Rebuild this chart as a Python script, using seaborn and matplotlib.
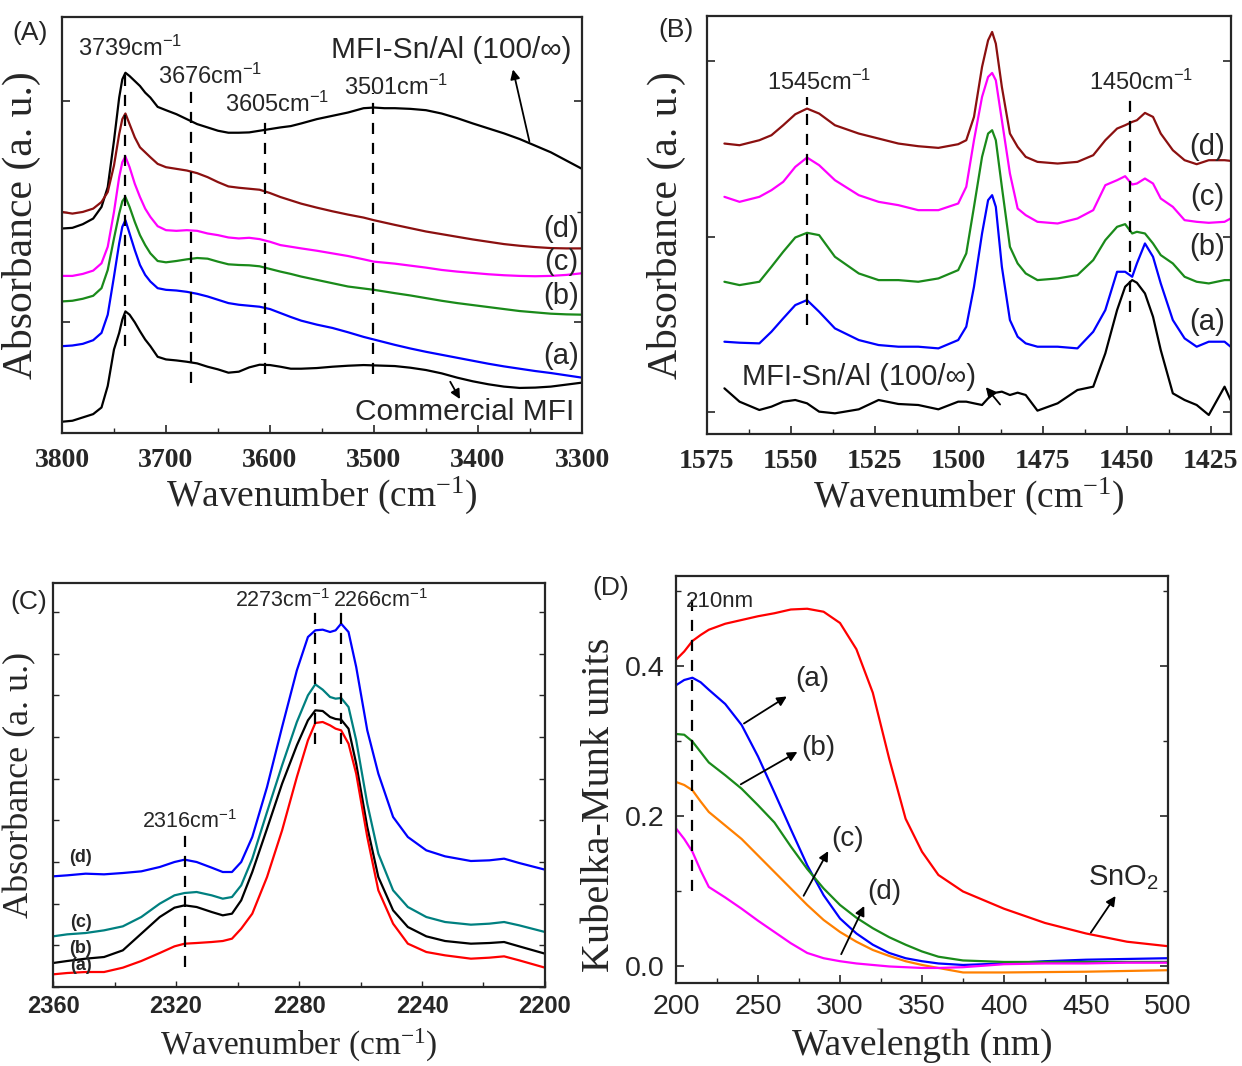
import numpy as np
import pandas as pd
import matplotlib
matplotlib.use("Agg")
import matplotlib.pyplot as plt
from matplotlib.ticker import MultipleLocator, FixedLocator, NullFormatter, FormatStrFormatter
import seaborn as sns

sns.set_style("ticks")
plt.rcParams['font.family'] = ['Liberation Sans', 'DejaVu Sans']
plt.rcParams['mathtext.fontset'] = 'custom'
plt.rcParams['mathtext.rm'] = 'Liberation Sans'
plt.rcParams['mathtext.default'] = 'regular'

# ---------------- Panel A data ----------------
wn_A = [3800, 3790, 3780, 3770, 3762, 3756, 3750, 3745, 3742, 3739, 3735, 3730, 3725, 3720, 3715, 3708,
        3700, 3690, 3680, 3670, 3660, 3650, 3640, 3630, 3620, 3610, 3600, 3590, 3580, 3570, 3555, 3540,
        3525, 3510, 3500, 3490, 3480, 3465, 3450, 3435, 3420, 3405, 3390, 3375, 3360, 3345, 3330, 3315, 3300]
A_snal = [0.617, 0.619, 0.630, 0.647, 0.682, 0.742, 0.882, 1.012, 1.067, 1.087, 1.077, 1.062, 1.047, 1.027,
          1.012, 0.984, 0.974, 0.962, 0.947, 0.932, 0.922, 0.912, 0.906, 0.906, 0.907, 0.912, 0.917, 0.922,
          0.926, 0.934, 0.947, 0.957, 0.967, 0.980, 0.982, 0.980, 0.980, 0.978, 0.974, 0.964, 0.950, 0.934,
          0.919, 0.904, 0.887, 0.867, 0.847, 0.822, 0.797]
A_d = [0.667, 0.662, 0.667, 0.677, 0.697, 0.727, 0.807, 0.902, 0.947, 0.964, 0.932, 0.892, 0.862, 0.847,
       0.832, 0.812, 0.802, 0.797, 0.792, 0.784, 0.772, 0.757, 0.744, 0.740, 0.737, 0.734, 0.724, 0.712,
       0.702, 0.692, 0.680, 0.669, 0.659, 0.650, 0.642, 0.635, 0.628, 0.618, 0.608, 0.600, 0.592, 0.584,
       0.577, 0.570, 0.565, 0.561, 0.558, 0.557, 0.557]
A_c = [0.474, 0.474, 0.480, 0.490, 0.512, 0.562, 0.667, 0.772, 0.817, 0.834, 0.802, 0.752, 0.712, 0.677,
       0.652, 0.624, 0.612, 0.610, 0.612, 0.610, 0.602, 0.597, 0.590, 0.587, 0.589, 0.585, 0.577, 0.567,
       0.562, 0.557, 0.550, 0.542, 0.534, 0.524, 0.517, 0.514, 0.511, 0.505, 0.499, 0.492, 0.487, 0.483,
       0.479, 0.476, 0.474, 0.473, 0.474, 0.477, 0.482]
A_b = [0.397, 0.399, 0.405, 0.414, 0.437, 0.492, 0.587, 0.662, 0.699, 0.712, 0.682, 0.637, 0.597, 0.567,
       0.542, 0.519, 0.515, 0.519, 0.524, 0.528, 0.526, 0.517, 0.509, 0.507, 0.506, 0.503, 0.495, 0.487,
       0.480, 0.472, 0.462, 0.452, 0.442, 0.436, 0.432, 0.427, 0.422, 0.415, 0.407, 0.399, 0.392, 0.386,
       0.380, 0.374, 0.368, 0.364, 0.360, 0.358, 0.357]
A_a = [0.262, 0.264, 0.269, 0.280, 0.302, 0.357, 0.472, 0.572, 0.622, 0.642, 0.602, 0.552, 0.507, 0.477,
       0.457, 0.437, 0.432, 0.430, 0.426, 0.420, 0.412, 0.402, 0.392, 0.387, 0.384, 0.381, 0.374, 0.362,
       0.350, 0.339, 0.327, 0.317, 0.304, 0.290, 0.282, 0.274, 0.266, 0.255, 0.245, 0.236, 0.227, 0.218,
       0.209, 0.201, 0.194, 0.187, 0.181, 0.174, 0.167]
A_comm = [0.034, 0.037, 0.047, 0.057, 0.077, 0.142, 0.252, 0.302, 0.342, 0.367, 0.357, 0.334, 0.307, 0.282,
          0.262, 0.230, 0.222, 0.219, 0.215, 0.210, 0.200, 0.192, 0.182, 0.185, 0.198, 0.206, 0.205, 0.200,
          0.194, 0.194, 0.196, 0.200, 0.203, 0.205, 0.204, 0.203, 0.202, 0.197, 0.190, 0.180, 0.167, 0.156,
          0.147, 0.140, 0.136, 0.137, 0.140, 0.146, 0.152]

# ---------------- Panel B data ----------------
wn_B = [1569.8, 1565.3, 1559.4, 1555.8, 1552.3, 1548.7, 1545.2, 1541.6, 1536.9, 1529.8, 1523.9, 1518.0,
        1512.1, 1506.1, 1500.2, 1497.8, 1495.5, 1493.1, 1491.3, 1490.1, 1489.0, 1487.2, 1484.8, 1482.5,
        1480.1, 1476.6, 1470.6, 1464.7, 1460.0, 1456.4, 1452.9, 1450.5, 1448.4, 1447.0, 1444.6, 1442.2,
        1439.9, 1436.3, 1432.8, 1429.2, 1425.6, 1420.9, 1419.1]
B_d = [0.872, 0.867, 0.882, 0.897, 0.927, 0.960, 0.977, 0.962, 0.927, 0.902, 0.887, 0.872, 0.864, 0.859,
       0.870, 0.882, 0.952, 1.102, 1.182, 1.207, 1.172, 1.042, 0.902, 0.862, 0.832, 0.817, 0.812, 0.817,
       0.837, 0.882, 0.917, 0.927, 0.937, 0.942, 0.964, 0.952, 0.902, 0.852, 0.822, 0.810, 0.822, 0.822, 0.820]
B_c = [0.712, 0.697, 0.712, 0.732, 0.757, 0.802, 0.830, 0.807, 0.762, 0.717, 0.697, 0.687, 0.672, 0.672,
       0.692, 0.742, 0.882, 1.012, 1.072, 1.084, 1.062, 0.942, 0.782, 0.677, 0.657, 0.637, 0.632, 0.647,
       0.672, 0.747, 0.762, 0.774, 0.749, 0.752, 0.767, 0.752, 0.707, 0.682, 0.642, 0.637, 0.634, 0.637, 0.647]
B_b = [0.457, 0.447, 0.457, 0.502, 0.547, 0.590, 0.604, 0.597, 0.532, 0.482, 0.462, 0.462, 0.457, 0.467,
       0.492, 0.542, 0.682, 0.832, 0.902, 0.912, 0.882, 0.742, 0.562, 0.512, 0.482, 0.462, 0.467, 0.477,
       0.522, 0.582, 0.622, 0.630, 0.602, 0.607, 0.602, 0.572, 0.537, 0.512, 0.472, 0.457, 0.452, 0.462, 0.462]
B_a = [0.277, 0.274, 0.272, 0.307, 0.347, 0.387, 0.402, 0.367, 0.317, 0.282, 0.267, 0.262, 0.262, 0.257,
       0.282, 0.322, 0.442, 0.602, 0.702, 0.717, 0.682, 0.502, 0.342, 0.292, 0.272, 0.262, 0.262, 0.257,
       0.307, 0.372, 0.487, 0.487, 0.472, 0.512, 0.572, 0.532, 0.452, 0.342, 0.287, 0.262, 0.277, 0.277, 0.262]
B_snal = [0.137, 0.097, 0.072, 0.082, 0.097, 0.102, 0.092, 0.067, 0.062, 0.074, 0.102, 0.090, 0.087, 0.074,
          0.097, 0.097, 0.092, 0.087, 0.107, 0.117, 0.124, 0.127, 0.117, 0.124, 0.117, 0.070, 0.092, 0.132,
          0.142, 0.242, 0.372, 0.442, 0.462, 0.454, 0.422, 0.352, 0.252, 0.122, 0.102, 0.087, 0.057, 0.142, 0.102]

# ---------------- Panel C data ----------------
wn_C = [2360, 2355.4, 2349.4, 2343.4, 2337.3, 2331.3, 2325.3, 2320.5, 2317.2, 2313.3, 2308.4, 2304.8,
        2301.8, 2298.8, 2295.2, 2290.4, 2285.5, 2280.7, 2277.1, 2274.7, 2272.3, 2269.9, 2268.1, 2266.3,
        2263.9, 2261.4, 2257.8, 2254.2, 2249.4, 2244.6, 2238.6, 2232.5, 2224.1, 2218.1, 2213.3, 2208.4, 2200]
C_d = [0.332, 0.335, 0.340, 0.338, 0.342, 0.347, 0.360, 0.375, 0.382, 0.375, 0.358, 0.345, 0.345, 0.375,
       0.450, 0.600, 0.780, 0.950, 1.050, 1.070, 1.072, 1.065, 1.070, 1.090, 1.065, 0.960, 0.770, 0.640,
       0.510, 0.450, 0.410, 0.392, 0.378, 0.380, 0.385, 0.372, 0.352]
C_c = [0.152, 0.158, 0.162, 0.170, 0.182, 0.210, 0.250, 0.275, 0.282, 0.285, 0.275, 0.265, 0.270, 0.305,
       0.385, 0.525, 0.665, 0.795, 0.875, 0.908, 0.892, 0.870, 0.865, 0.867, 0.840, 0.740, 0.550, 0.400,
       0.290, 0.240, 0.210, 0.195, 0.187, 0.190, 0.195, 0.185, 0.165]
C_b = [0.072, 0.078, 0.085, 0.090, 0.110, 0.160, 0.210, 0.238, 0.245, 0.240, 0.225, 0.215, 0.220, 0.260,
       0.345, 0.475, 0.610, 0.725, 0.800, 0.830, 0.828, 0.810, 0.804, 0.802, 0.775, 0.670, 0.480, 0.330,
       0.230, 0.180, 0.152, 0.138, 0.130, 0.132, 0.135, 0.122, 0.100]
C_a = [0.038, 0.042, 0.045, 0.045, 0.058, 0.078, 0.102, 0.122, 0.130, 0.132, 0.135, 0.138, 0.145, 0.175,
       0.220, 0.330, 0.470, 0.630, 0.740, 0.792, 0.795, 0.785, 0.775, 0.770, 0.730, 0.640, 0.450, 0.290,
       0.190, 0.130, 0.105, 0.095, 0.085, 0.088, 0.092, 0.080, 0.058]

# ---------------- Panel D data ----------------
wl_D = [200, 205, 210, 215, 220, 230, 240, 250, 260, 270, 280, 290, 300, 310, 320, 330, 340, 350, 360, 375,
        400, 425, 450, 475, 500]
D_sno2 = [0.409, 0.420, 0.434, 0.442, 0.449, 0.457, 0.462, 0.467, 0.471, 0.476, 0.477, 0.473, 0.458, 0.423,
          0.365, 0.277, 0.197, 0.153, 0.122, 0.100, 0.077, 0.058, 0.044, 0.033, 0.027]
D_a = [0.375, 0.382, 0.385, 0.379, 0.369, 0.350, 0.322, 0.280, 0.232, 0.183, 0.135, 0.095, 0.064, 0.044,
       0.029, 0.018, 0.011, 0.007, 0.004, 0.002, 0.004, 0.007, 0.009, 0.010, 0.011]
D_b = [0.310, 0.309, 0.300, 0.286, 0.272, 0.255, 0.237, 0.215, 0.192, 0.160, 0.130, 0.104, 0.082, 0.065,
       0.051, 0.039, 0.029, 0.020, 0.013, 0.008, 0.006, 0.006, 0.006, 0.006, 0.006]
D_c = [0.246, 0.242, 0.235, 0.220, 0.206, 0.188, 0.170, 0.148, 0.126, 0.104, 0.082, 0.062, 0.046, 0.033,
       0.022, 0.014, 0.007, 0.002, -0.002, -0.008, -0.008, -0.0075, -0.007, -0.006, -0.005]
D_d = [0.184, 0.170, 0.153, 0.128, 0.106, 0.092, 0.077, 0.061, 0.046, 0.031, 0.018, 0.011, 0.007, 0.004,
       0.002, 0.000, -0.001, -0.002, -0.002, -0.001, 0.003, 0.004, 0.004, 0.005, 0.005]

BROWN = '#8b1010'
MAG = '#ff00ff'
GREEN = '#1a8a1a'
BLUE = '#0000ff'
TEAL = '#008080'
ORANGE = '#ff8000'
RED = '#ff0000'

SERIF = ['Liberation Serif', 'DejaVu Serif']
SANS = ['Liberation Sans', 'DejaVu Sans']

fig = plt.figure(figsize=(12.42, 10.66), dpi=100)
axA = fig.add_axes([0.0499, 0.5938, 0.4187, 0.3902])
axB = fig.add_axes([0.5692, 0.5929, 0.4219, 0.3921])
axC = fig.add_axes([0.0427, 0.0741, 0.3961, 0.3790])
axD = fig.add_axes([0.5443, 0.0779, 0.3961, 0.3820])


def draw(ax, x, ys_colors):
    for y, c in ys_colors:
        df = pd.DataFrame({'x': x, 'y': y})
        sns.lineplot(data=df, x='x', y='y', ax=ax, color=c, lw=1.6, estimator=None, sort=True)


def style(ax, tick_font, tick_size, tick_weight, pad):
    ax.tick_params(which='both', direction='in', top=False, right=True)
    ax.tick_params(which='major', length=6, width=1.2, pad=pad)
    ax.tick_params(which='minor', length=3.5, width=1.0)
    for s in ax.spines.values():
        s.set_linewidth(1.6)
        s.set_visible(True)
    for lab in ax.get_xticklabels() + ax.get_yticklabels():
        lab.set_fontfamily(tick_font)
        lab.set_fontsize(tick_size)
        lab.set_fontweight(tick_weight)


def dash(ax, x, y0, y1):
    ax.plot([x, x], [y0, y1], color='black', ls=(0, (5, 4)), lw=1.6)


def arrow(ax, xy_from, xy_to):
    ax.annotate('', xy=xy_to, xytext=xy_from,
                arrowprops=dict(arrowstyle='-|>', color='black', lw=1.3, mutation_scale=14))

# ---------------- Panel A ----------------
draw(axA, wn_A, [(A_snal, 'black'), (A_d, BROWN), (A_c, MAG), (A_b, GREEN), (A_a, BLUE), (A_comm, 'black')])
axA.set_xlim(3800, 3300)
axA.set_ylim(0, 1.255)
axA.xaxis.set_major_locator(MultipleLocator(100))
axA.xaxis.set_minor_locator(MultipleLocator(50))
axA.yaxis.set_major_locator(FixedLocator([0.334, 1.002]))
axA.yaxis.set_minor_locator(FixedLocator([0.668]))
axA.yaxis.set_major_formatter(NullFormatter())
axA.set_xlabel('Wavenumber (cm$^{-1}$)', fontfamily=SERIF, fontsize=27, labelpad=1)
axA.set_ylabel('Absorbance (a. u.)', fontfamily=SERIF, fontsize=30, labelpad=4)
style(axA, SERIF, 20, 'bold', 11)
for x, y0, y1 in [(3739, 0.262, 1.107), (3676, 0.152, 1.037), (3605, 0.177, 0.947), (3501, 0.177, 1.027)]:
    dash(axA, x, y0, y1)
for txt, x, y in [('3739cm$^{-1}$', 3734, 1.162), ('3676cm$^{-1}$', 3658, 1.077),
                  ('3605cm$^{-1}$', 3593, 0.992), ('3501cm$^{-1}$', 3479, 1.042)]:
    axA.text(x, y, txt, ha='center', va='center', fontsize=17, fontfamily=SANS)
axA.text(3426, 1.157, 'MFI-Sn/Al (100/∞)', ha='center', va='center', fontsize=21.5, fontfamily=SANS)
arrow(axA, (3350, 0.872), (3367, 1.105))
axA.text(3413, 0.062, 'Commercial MFI', ha='center', va='center', fontsize=21.5, fontfamily=SANS)
arrow(axA, (3428, 0.162), (3416, 0.095))
for txt, y in [('(d)', 0.617), ('(c)', 0.517), ('(b)', 0.412), ('(a)', 0.232)]:
    axA.text(3320, y, txt, ha='center', va='center', fontsize=21, fontfamily=SANS)
fig.text(12 / 1242, 1 - 33 / 1066, '(A)', fontsize=19, fontfamily=SANS, va='center')

# ---------------- Panel B ----------------
draw(axB, wn_B, [(B_d, BROWN), (B_c, MAG), (B_b, GREEN), (B_a, BLUE), (B_snal, 'black')])
axB.set_xlim(1575, 1419)
axB.set_ylim(0, 1.255)
axB.xaxis.set_major_locator(MultipleLocator(25))
axB.xaxis.set_minor_locator(MultipleLocator(12.5))
axB.yaxis.set_major_locator(FixedLocator([0.065, 0.592, 1.119]))
axB.yaxis.set_major_formatter(NullFormatter())
axB.set_xlabel('Wavenumber (cm$^{-1}$)', fontfamily=SERIF, fontsize=27, labelpad=1)
axB.set_ylabel('Absorbance (a. u.)', fontfamily=SERIF, fontsize=30, labelpad=4)
style(axB, SERIF, 20, 'bold', 11)
dash(axB, 1545.2, 0.327, 1.012)
dash(axB, 1449, 0.367, 1.002)
axB.text(1541.6, 1.057, '1545cm$^{-1}$', ha='center', va='center', fontsize=17, fontfamily=SANS)
axB.text(1445.8, 1.057, '1450cm$^{-1}$', ha='center', va='center', fontsize=17, fontfamily=SANS)
for txt, y in [('(d)', 0.862), ('(c)', 0.712), ('(b)', 0.562), ('(a)', 0.337)]:
    axB.text(1426, y, txt, ha='center', va='center', fontsize=21, fontfamily=SANS)
axB.text(1529.8, 0.172, 'MFI-Sn/Al (100/∞)', ha='center', va='center', fontsize=21, fontfamily=SANS)
arrow(axB, (1487.2, 0.082), (1492.5, 0.147))
fig.text(658 / 1242, 1 - 30 / 1066, '(B)', fontsize=19, fontfamily=SANS, va='center')

# ---------------- Panel C ----------------
draw(axC, wn_C, [(C_d, BLUE), (C_c, TEAL), (C_b, 'black'), (C_a, RED)])
axC.set_xlim(2360, 2200)
axC.set_ylim(0, 1.212)
axC.xaxis.set_major_locator(MultipleLocator(40))
axC.xaxis.set_minor_locator(MultipleLocator(20))
axC.yaxis.set_major_locator(MultipleLocator(0.125))
axC.yaxis.set_major_formatter(NullFormatter())
axC.set_xlabel('Wavenumber (cm$^{-1}$)', fontfamily=SERIF, fontsize=24, labelpad=6)
axC.set_ylabel('Absorbance (a. u.)', fontfamily=SERIF, fontsize=26, labelpad=6)
style(axC, SANS, 17, 'bold', 6)
axC.tick_params(which='major', length=4, width=1.0)
dash(axC, 2317, 0.06, 0.455)
dash(axC, 2274.7, 0.73, 1.15)
dash(axC, 2266.5, 0.73, 1.14)
axC.text(2315.7, 0.495, '2316cm$^{-1}$', ha='center', va='center', fontsize=15.5, fontfamily=SANS)
axC.text(2285.5, 1.16, '2273cm$^{-1}$', ha='center', va='center', fontsize=15.5, fontfamily=SANS)
axC.text(2253.6, 1.16, '2266cm$^{-1}$', ha='center', va='center', fontsize=15.5, fontfamily=SANS)
for txt, y in [('(d)', 0.388), ('(c)', 0.195), ('(b)', 0.115), ('(a)', 0.065)]:
    axC.text(2351, y, txt, ha='center', va='center', fontsize=13, fontweight='bold', fontfamily=SANS)
fig.text(10 / 1242, 1 - 602 / 1066, '(C)', fontsize=19, fontfamily=SANS, va='center')

# ---------------- Panel D ----------------
draw(axD, wl_D, [(D_sno2, RED), (D_a, BLUE), (D_b, GREEN), (D_c, ORANGE), (D_d, MAG)])
axD.set_xlim(200, 500)
axD.set_ylim(-0.022, 0.521)
axD.xaxis.set_major_locator(MultipleLocator(50))
axD.xaxis.set_minor_locator(MultipleLocator(25))
axD.yaxis.set_major_locator(MultipleLocator(0.2))
axD.yaxis.set_minor_locator(MultipleLocator(0.1))
axD.set_xlabel('Wavelength (nm)', fontfamily=SERIF, fontsize=27, labelpad=6)
axD.set_ylabel('Kubelka-Munk units', fontfamily=SERIF, fontsize=29)
axD.yaxis.set_label_coords(-0.118, 0.437)
style(axD, SANS, 20.5, 'normal', 8)
axD.yaxis.set_major_formatter(FormatStrFormatter('%.1f'))
dash(axD, 210, 0.10, 0.50)
axD.text(206, 0.487, '210nm', ha='left', va='center', fontsize=16, fontfamily=SANS)
axD.text(283, 0.383, '(a)', ha='center', va='center', fontsize=20, fontfamily=SANS)
arrow(axD, (240, 0.322), (269, 0.362))
axD.text(287, 0.291, '(b)', ha='center', va='center', fontsize=20, fontfamily=SANS)
arrow(axD, (238, 0.241), (275.5, 0.288))
axD.text(304.5, 0.170, '(c)', ha='center', va='center', fontsize=20, fontfamily=SANS)
arrow(axD, (277, 0.091), (293.6, 0.157))
axD.text(327, 0.099, '(d)', ha='center', va='center', fontsize=20, fontfamily=SANS)
arrow(axD, (300, 0.013), (315.5, 0.084))
axD.text(473, 0.119, 'SnO$_2$', ha='center', va='center', fontsize=21, fontfamily=SANS)
arrow(axD, (452, 0.042), (469, 0.097))
fig.text(592 / 1242, 1 - 588 / 1066, '(D)', fontsize=19, fontfamily=SANS, va='center')

for ax in (axA, axB, axC, axD):
    ax.set_facecolor('white')

fig.savefig('out.png', dpi=100, facecolor='white')
